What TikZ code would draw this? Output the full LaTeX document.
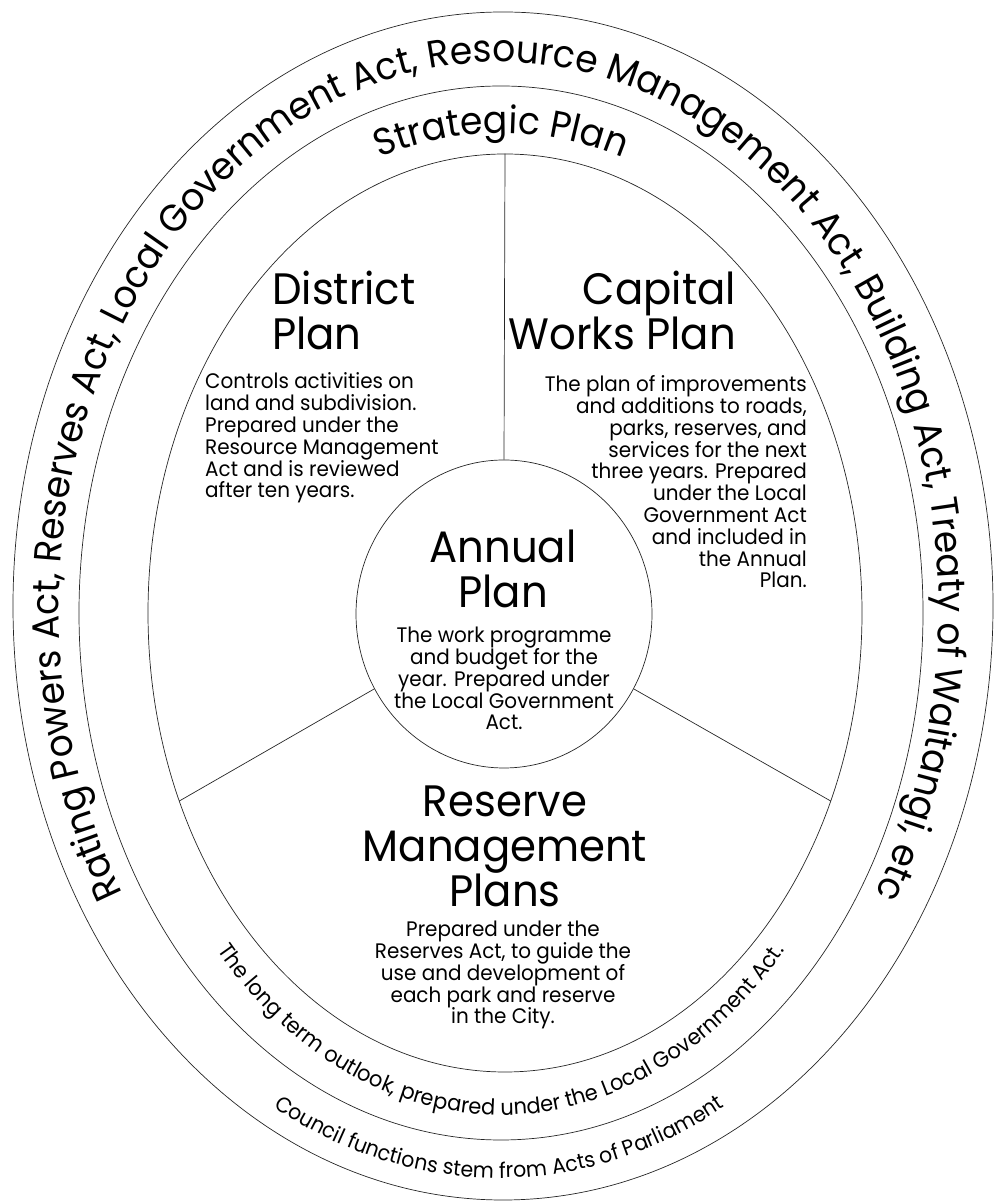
\documentclass[tikz,border=0pt]{standalone}
\usepackage{fontspec}
\setmainfont{Poppins}[FakeStretch=0.95]
\usetikzlibrary{shapes.geometric,decorations.text}

\begin{document}
\begin{tikzpicture}[x=1pt,y=1pt,
      ring/.style={
         ellipse,
         draw=black!85,
         line width=0.7pt,
         inner sep=0pt},
      spoke/.style={draw=black!85, line width=0.7pt},
      title/.style={inner sep=0pt, font=\fontsize{44}{45}\selectfont},
      blurb/.style={inner sep=0pt, font=\fontsize{21}{21.8}\selectfont},
      along/.style={decorate, decoration={text along path, text align=center, text={#1}}}
      ]
      \useasboundingbox (0,0) rectangle (994,1201);

      % the rings
      \node[ring, minimum width=980, minimum height=1188] (acts) at (503,595) {};
      \node[ring, minimum width=844, minimum height=1054] (strategic) at (501,588) {};
      \node[ring, minimum width=714, minimum height=918] (plans) at (505,588) {};
      \node[ring, minimum width=296, minimum height=308] (annual) at (504,587) {};

      \coordinate (c1) at (499,591);
      \coordinate (c2) at (501,588);

      % spokes
      \foreach \a in {90,210,330}
         \draw[spoke] (annual.\a) -- (plans.\a);

      % curved texts
      \path[along={|\fontsize{38}{38}\selectfont|Rating Powers Act, Reserves Act, Local Government Act, Resource Management Act, Building Act, Treaty of Waitangi, etc}]
         ([shift={(222:440 and 548)}]c1) arc[start angle=222, end angle=-42, x radius=440, y radius=548];
      \path[along={|\fontsize{38}{38}\selectfont|Strategic Plan}]
         ([shift={(140:385 and 480)}]c2) arc[start angle=140, end angle=40, x radius=385, y radius=480];
      \path[along={|\fontsize{22}{22}\selectfont|The long term outlook, prepared under the Local Government Act.}]
         ([shift={(205:383 and 502)}]c2) arc[start angle=205, end angle=335, x radius=383, y radius=502];
      \path[along={|\fontsize{21.5}{21.5}\selectfont|Council functions stem from Acts of Parliament}]
         ([shift={(225:466 and 568)}]c1) arc[start angle=225, end angle=315, x radius=466, y radius=568];

      % the four plans
      \node[title, align=left, anchor=base west] (district) at (272,851) {District\\Plan};
      \node[blurb, align=left, anchor=base west] (districtnote) at (205,703)
         {Controls activities on\\land and subdivision.\\Prepared under the\\Resource Management\\Act and is reviewed\\after ten years.};

      \node[title, align=right, anchor=base east] (capital) at (736,851) {Capital\\Works Plan};
      \node[blurb, align=right, anchor=base east] (capitalnote) at (807,613)
         {The plan of improvements\\and additions to roads,\\parks, reserves, and\\services for the next\\three years. Prepared\\under the Local\\Government Act\\and included in\\the Annual\\Plan.};

      \node[title, align=center, anchor=base] (annualtitle) at (503,593) {Annual\\Plan};
      \node[blurb, align=center, anchor=base] (annualnote) at (504,471)
         {The work programme\\and budget for the\\year. Prepared under\\the Local Government\\Act.};

      \node[title, align=center, anchor=base] (reserve) at (505,294) {Reserve\\Management\\Plans};
      \node[blurb, align=center, anchor=base] (reservenote) at (503,177)
         {Prepared under the\\Reserves Act, to guide the\\use and development of\\each park and reserve\\in the City.};

\end{tikzpicture}
\end{document}
